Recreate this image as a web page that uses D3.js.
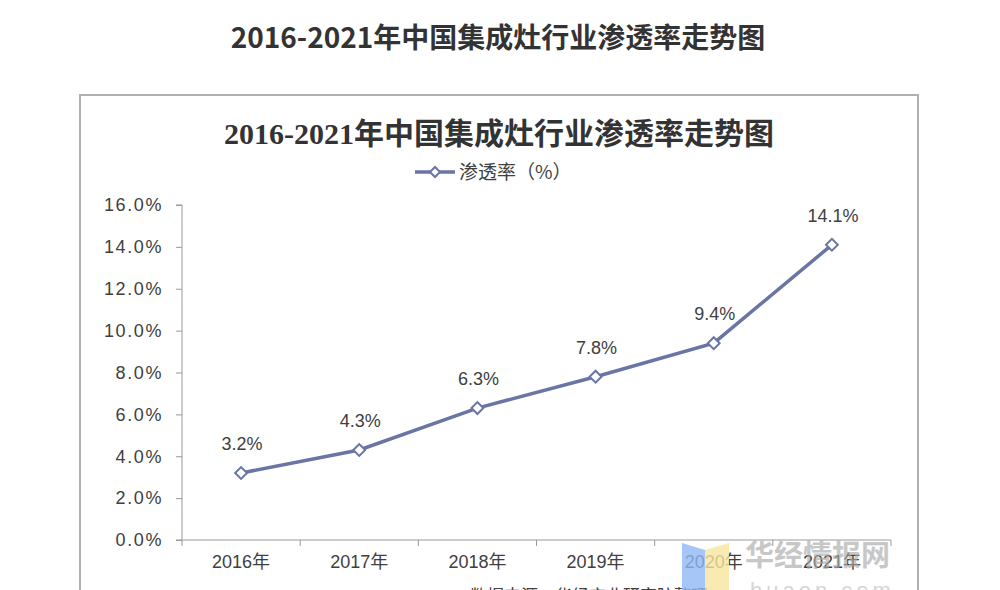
<!DOCTYPE html>
<html><head><meta charset="utf-8">
<script src="https://cdn.jsdelivr.net/npm/d3@7/dist/d3.min.js"></script>
<style>body{margin:0;background:#fff;}svg{display:block;}</style>
</head><body>
<svg id="c" width="1000" height="590"></svg>
<script>
const categories = ["2016年","2017年","2018年","2019年","2020年","2021年"];
const values = [3.2, 4.3, 6.3, 7.8, 9.4, 14.1];
const yTicks = [0,2,4,6,8,10,12,14,16];
const seriesName = "渗透率（%）";
const pageTitle = "2016-2021年中国集成灶行业渗透率走势图";

const svg = d3.select("#c");
const lineColor = "#6a75a5";
const txt = "#404040";

// page title
svg.append("text").attr("x",498).attr("y",48).attr("text-anchor","middle")
  .attr("font-family","'Noto Sans CJK SC','Noto Sans',sans-serif").attr("font-weight","bold")
  .attr("font-size",28).attr("fill","#333").text(pageTitle);

// chart frame
svg.append("rect").attr("x",80).attr("y",95).attr("width",838).attr("height",520)
  .attr("fill","#fff").attr("stroke","#b0b0b0").attr("stroke-width",2);

// chart title
svg.append("text").attr("x",499).attr("y",144).attr("text-anchor","middle")
  .attr("font-family","'Liberation Serif','Noto Sans CJK SC',serif").attr("font-weight","bold")
  .attr("font-size",30).attr("fill","#333").text(pageTitle);

const x = d3.scaleBand().domain(categories).range([182,891]);
const y = d3.scaleLinear().domain([0,16]).range([540,205]);

const diamond = (s) => d3.symbol(d3.symbolSquare, s)();

// legend
const lg = svg.append("g").attr("transform","translate(0,172)");
lg.append("line").attr("x1",415).attr("x2",455).attr("y1",0).attr("y2",0).attr("stroke",lineColor).attr("stroke-width",3.5);
lg.append("path").attr("d",diamond(50)).attr("transform","translate(435,0) rotate(45)")
  .attr("fill","#fff").attr("stroke",lineColor).attr("stroke-width",2);
lg.append("text").attr("x",459).attr("y",7).attr("font-family","'Noto Sans CJK SC',sans-serif")
  .attr("font-size",19).attr("fill",txt).text(seriesName);

// y axis
const ya = svg.append("g").attr("transform","translate(182,0)")
  .call(d3.axisLeft(y).tickValues(yTicks).tickSize(6).tickPadding(13).tickFormat(d=>d.toFixed(1)+"%"));
ya.select(".domain").attr("stroke","#999").attr("d","M-6,205H0V540H-6");
ya.selectAll(".tick line").attr("stroke","#999");
ya.selectAll("text").attr("font-family","'Liberation Sans',Arial,sans-serif").attr("font-size",18)
  .attr("letter-spacing",1.6).attr("fill",txt);

// x axis
const xa = svg.append("g").attr("transform","translate(0,540)")
  .call(d3.axisBottom(x).tickSize(0).tickPadding(15));
xa.select(".domain").attr("stroke","#999").attr("d","M182,0H891");
xa.selectAll("text").attr("font-family","'Liberation Sans','Noto Sans CJK SC',sans-serif").attr("font-size",18).attr("fill",txt);
const bounds = categories.map(c=>x(c)).concat([x.range()[1]]);
xa.selectAll(".bt").data(bounds).enter().append("line")
  .attr("x1",d=>d).attr("x2",d=>d).attr("y1",0).attr("y2",6).attr("stroke","#999");

// line
const cx = c => x(c)+x.bandwidth()/2;
svg.append("path").datum(values)
  .attr("d",d3.line().x((d,i)=>cx(categories[i])).y(d=>y(d)))
  .attr("fill","none").attr("stroke",lineColor).attr("stroke-width",3.5);
svg.selectAll(".pt").data(values).enter().append("path")
  .attr("d",diamond(70))
  .attr("transform",(d,i)=>`translate(${cx(categories[i])},${y(d)}) rotate(45)`)
  .attr("fill","#fff").attr("stroke",lineColor).attr("stroke-width",2);
svg.selectAll(".lb").data(values).enter().append("text")
  .attr("x",(d,i)=>cx(categories[i])+1).attr("y",d=>y(d)-23)
  .attr("text-anchor","middle").attr("font-family","'Liberation Sans',Arial,sans-serif")
  .attr("font-size",18).attr("fill",txt).text(d=>d.toFixed(1)+"%");

// source line (mostly cut off)
svg.append("text").attr("x",470).attr("y",602).attr("font-family","'Noto Sans CJK SC',sans-serif")
  .attr("font-size",17).attr("fill",txt).text("数据来源：华经产业研究院整理");

// watermark
const wm = svg.append("g").attr("opacity",0.8);
wm.append("path").attr("d","M682,543 L705,550 L705,590 L682,590 Z").attr("fill","#8fb8f5");
wm.append("path").attr("d","M705,550 L729,543 L729,590 L705,590 Z").attr("fill","#f8e6a0");
wm.append("text").attr("x",745).attr("y",566).attr("font-family","'Noto Sans CJK SC',sans-serif")
  .attr("font-size",29).attr("font-weight","bold").attr("fill","#aaa").attr("opacity",0.8)
  .attr("textLength",145).text("华经情报网");
wm.append("text").attr("x",750).attr("y",598).attr("font-family","'Liberation Sans',sans-serif")
  .attr("font-size",22).attr("fill","#ccc").attr("letter-spacing",4).text("huaon.com");
</script>
</body></html>
